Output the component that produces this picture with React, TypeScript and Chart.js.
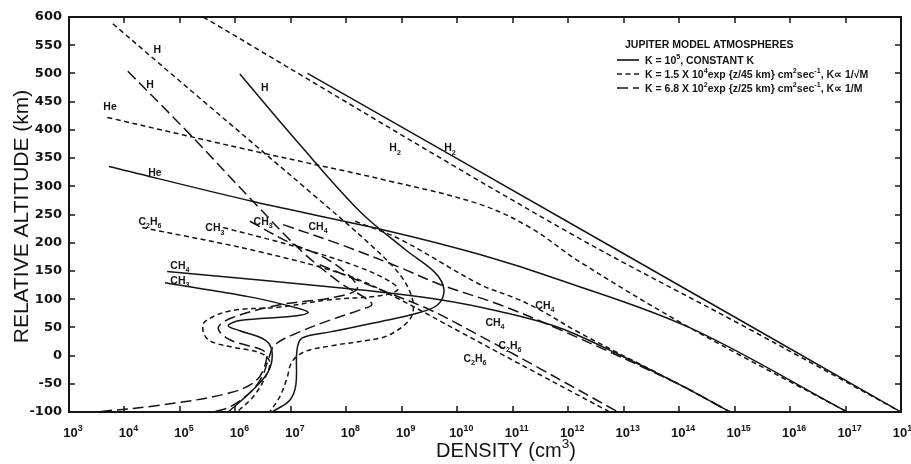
import { useEffect, useRef } from "react";
import { Chart, registerables } from "chart.js";

Chart.register(...registerables);

// Each profile is a list of [log10 density (cm^-3), relative altitude (km)].
type Pt = [number, number];

// K = 10^5, constant K
const h2ConstK: Pt[] = [[7.3, 500], [12.6, 203], [18, -100]];
const heConstK: Pt[] = [[3.72, 335], [6.32, 273], [8.79, 220], [10.41, 179], [11.85, 134], [14.2, 49], [17.03, -100]];
const hConstK: Pt[] = [[6.08, 499], [7.16, 374], [8.25, 255], [9.06, 188], [9.6, 147], [9.76, 117], [9.65, 90], [9.24, 74], [8.61, 60], [7.71, 42], [7.2, 31], [7.11, 10], [7.09, -52], [6.98, -79], [6.66, -100]];
const ch4ConstK: Pt[] = [[4.77, 149], [8.19, 117], [9.69, 99], [10.77, 78], [11.85, 49], [12.93, 1], [14.02, -52], [14.92, -100]];
const ch3ConstK: Pt[] = [[4.73, 129], [6.26, 104], [7.16, 83], [7.31, 76], [7.07, 70], [6.08, 62], [5.87, 53], [6.08, 44], [6.53, 28], [6.66, 7], [6.59, -29], [6.26, -66], [5.87, -100]];

// K = 1.5 x 10^4 exp(z/45 km), K ∝ 1/√M
const h2SqrtM: Pt[] = [[5.42, 600], [11.85, 227], [15.28, 46], [18, -100]];
const heSqrtM: Pt[] = [[3.69, 422], [6.44, 360], [8.79, 309], [10.41, 268], [11.31, 227], [12.21, 166], [14.2, 49], [17.03, -100]];
const hSqrtM: Pt[] = [[3.79, 588], [5.36, 456], [7.38, 287], [8.43, 197], [8.97, 143], [9.18, 104], [9.2, 76], [9.09, 58], [8.84, 40], [8.61, 31], [7.71, 17], [7.25, 7], [7.02, -11], [6.93, -40], [6.8, -73], [6.62, -100]];
const ch4SqrtM: Pt[] = [[8.16, 238], [8.97, 206], [10.41, 126], [11.04, 102], [11.49, 81], [12.21, 40], [14.02, -52], [14.92, -100]];
const ch3SqrtM: Pt[] = [[5.78, 227], [7.16, 191], [8.25, 156], [8.79, 131], [8.93, 117], [8.61, 106], [7.71, 99], [6.8, 86], [5.9, 79], [5.45, 60], [5.42, 42], [5.54, 26], [5.94, 15], [6.44, 5], [6.62, -11], [6.53, -40], [6.32, -73], [6.03, -100]];
const c2h6SqrtM: Pt[] = [[4.32, 227], [6.44, 184], [8.07, 140], [8.97, 99], [10.05, 42], [11.49, -34], [12.75, -100]];

// K = 6.8 x 10^2 exp(z/25 km), K ∝ 1/M
const hInvM: Pt[] = [[4.06, 504], [5.18, 392], [6.32, 273], [7.16, 188], [7.89, 129], [8.34, 102], [8.46, 90], [8.25, 81], [7.71, 63], [7.16, 42], [6.71, 19], [6.59, -8], [6.48, -38], [6.26, -66], [5.9, -91], [5.6, -100]];
const ch4InvM: Pt[] = [[6.86, 232], [7.89, 197], [8.97, 156], [9.69, 126], [10.77, 90], [11.85, 46], [14.02, -52], [14.92, -100]];
const ch3InvM: Pt[] = [[6.26, 238], [6.98, 200], [7.58, 175], [8.07, 140], [8.19, 117], [7.71, 102], [6.8, 90], [5.94, 67], [5.69, 49], [5.9, 28], [6.48, 10], [6.57, -2], [6.39, -43], [5.9, -66], [4.64, -88], [3.47, -100]];
const c2h6InvM: Pt[] = [[7.52, 161], [8.61, 117], [9.51, 81], [10.41, 35], [11.49, -23], [12.9, -100]];

// Axis ticks
const densityExponents = [3, 4, 5, 6, 7, 8, 9, 10, 11, 12, 13, 14, 15, 16, 17, 18];
const altitudeMin = -100;
const altitudeMax = 600;
const altitudeStep = 50;

// Curve labels, anchored at [log10 density, altitude]
const speciesLabels: { text: string; at: Pt }[] = [
  { text: "H", at: [4.59, 543] },
  { text: "H", at: [4.46, 481] },
  { text: "H", at: [6.53, 476] },
  { text: "He", at: [3.74, 442] },
  { text: "He", at: [4.55, 326] },
  { text: "H₂", at: [8.88, 369] },
  { text: "H₂", at: [9.87, 369] },
  { text: "C₂H₆", at: [4.46, 238] },
  { text: "CH₃", at: [5.63, 227] },
  { text: "CH₃", at: [6.5, 238] },
  { text: "CH₄", at: [7.49, 230] },
  { text: "CH₄", at: [5.0, 161] },
  { text: "CH₃", at: [5.0, 134] },
  { text: "CH₄", at: [11.58, 90] },
  { text: "CH₄", at: [10.68, 60] },
  { text: "C₂H₆", at: [10.95, 19] },
  { text: "C₂H₆", at: [10.32, -4] },
];

const legendTitle = "JUPITER MODEL ATMOSPHERES";
const models = [
  { key: "constK", text: "K = 10⁵, CONSTANT K" },
  { key: "sqrtM", text: "K = 1.5 X 10⁴exp {z/45 km} cm²sec⁻¹, K∝ 1/√M" },
  { key: "invM", text: "K = 6.8 X 10²exp {z/25 km} cm²sec⁻¹, K∝ 1/M" },
];

const series: { label: string; model: string; pts: Pt[] }[] = [
  { label: "H₂", model: "constK", pts: h2ConstK },
  { label: "He", model: "constK", pts: heConstK },
  { label: "H", model: "constK", pts: hConstK },
  { label: "CH₄", model: "constK", pts: ch4ConstK },
  { label: "CH₃", model: "constK", pts: ch3ConstK },
  { label: "H₂", model: "sqrtM", pts: h2SqrtM },
  { label: "He", model: "sqrtM", pts: heSqrtM },
  { label: "H", model: "sqrtM", pts: hSqrtM },
  { label: "CH₄", model: "sqrtM", pts: ch4SqrtM },
  { label: "CH₃", model: "sqrtM", pts: ch3SqrtM },
  { label: "C₂H₆", model: "sqrtM", pts: c2h6SqrtM },
  { label: "H", model: "invM", pts: hInvM },
  { label: "CH₄", model: "invM", pts: ch4InvM },
  { label: "CH₃", model: "invM", pts: ch3InvM },
  { label: "C₂H₆", model: "invM", pts: c2h6InvM },
];

const INK = "#141414";
const W = 925;
const H = 464;
const dashFor: Record<string, number[]> = { constK: [], sqrtM: [5, 3.5], invM: [11, 5] };

const SUP: Record<string, string> = { "⁰": "0", "¹": "1", "²": "2", "³": "3", "⁴": "4", "⁵": "5", "⁶": "6", "⁷": "7", "⁸": "8", "⁹": "9", "⁻": "-" };
const SUB: Record<string, string> = { "₀": "0", "₁": "1", "₂": "2", "₃": "3", "₄": "4", "₅": "5", "₆": "6", "₇": "7", "₈": "8", "₉": "9" };
const toSup = (n: number) => String(n).split("").map((d) => Object.keys(SUP).find((k) => SUP[k] === d) || d).join("");

// Draws text with raised superscript and lowered subscript characters.
function drawRich(ctx: CanvasRenderingContext2D, text: string, x: number, y: number, size: number, family: string, weight: string, align: "left" | "center" | "right") {
  const runs: { t: string; kind: number }[] = [];
  for (const ch of text) {
    const kind = SUP[ch] !== undefined ? 1 : SUB[ch] !== undefined ? 2 : 0;
    const t = kind === 1 ? SUP[ch] : kind === 2 ? SUB[ch] : ch;
    const last = runs[runs.length - 1];
    if (last && last.kind === kind) last.t += t;
    else runs.push({ t, kind });
  }
  const fontFor = (k: number) => `${weight} ${k ? size * 0.68 : size}px ${family}`;
  let total = 0;
  const widths = runs.map((r) => {
    ctx.font = fontFor(r.kind);
    const w = ctx.measureText(r.t).width;
    total += w;
    return w;
  });
  let cx = align === "center" ? x - total / 2 : align === "right" ? x - total : x;
  ctx.textAlign = "left";
  ctx.textBaseline = "alphabetic";
  runs.forEach((r, i) => {
    ctx.font = fontFor(r.kind);
    const dy = r.kind === 1 ? -size * 0.45 : r.kind === 2 ? size * 0.3 : 0;
    ctx.fillText(r.t, cx, y + dy);
    cx += widths[i];
  });
}

const framePlugin = {
  id: "frame",
  afterDatasetsDraw(chart: any) {
    const { ctx, chartArea: a } = chart;
    const xs = chart.scales.x;
    const ys = chart.scales.y;
    ctx.save();
    ctx.strokeStyle = INK;
    ctx.fillStyle = INK;
    ctx.setLineDash([]);

    // plot box
    ctx.lineWidth = 2;
    ctx.strokeRect(a.left, a.top, a.right - a.left, a.bottom - a.top);

    // inward tick marks on all four sides
    ctx.lineWidth = 1.5;
    ctx.beginPath();
    for (const e of densityExponents) {
      const px = Math.round(xs.getPixelForValue(Math.pow(10, e)));
      ctx.moveTo(px, a.bottom);
      ctx.lineTo(px, a.bottom - 6);
      ctx.moveTo(px, a.top);
      ctx.lineTo(px, a.top + 6);
    }
    for (let v = altitudeMin; v <= altitudeMax; v += altitudeStep) {
      const py = Math.round(ys.getPixelForValue(v));
      ctx.moveTo(a.left, py);
      ctx.lineTo(a.left + 6, py);
      ctx.moveTo(a.right, py);
      ctx.lineTo(a.right - 6, py);
    }
    ctx.stroke();

    // density tick labels: 10 with superscript exponent
    for (const e of densityExponents) {
      const px = xs.getPixelForValue(Math.pow(10, e));
      drawRich(ctx, "10" + toSup(e), px + 4, a.bottom + 25, 13, "'Liberation Sans'", "bold", "center");
    }

    // axis titles
    ctx.font = "21px 'Liberation Sans'";
    ctx.textAlign = "center";
    ctx.textBaseline = "middle";
    ctx.save();
    ctx.translate(22, (a.top + a.bottom) / 2 + 2);
    ctx.rotate(-Math.PI / 2);
    ctx.fillText("RELATIVE ALTITUDE (km)", 0, 0);
    ctx.restore();
    drawRich(ctx, "DENSITY (cm³)", (a.left + a.right) / 2 + 21, a.bottom + 45, 20, "'Liberation Sans'", "normal", "center");

    // species labels
    for (const l of speciesLabels) {
      const px = xs.getPixelForValue(Math.pow(10, l.at[0]));
      const py = ys.getPixelForValue(l.at[1]);
      drawRich(ctx, l.text, px, py + 4, 10.5, "'Liberation Sans'", "bold", "center");
    }

    // legend
    const lx = a.right - 284;
    drawRich(ctx, legendTitle, lx + 8, a.top + 31, 10.5, "'Liberation Sans'", "bold", "left");
    models.forEach((m, i) => {
      const ly = a.top + 43 + i * 14;
      ctx.lineWidth = 1.6;
      ctx.setLineDash(dashFor[m.key]);
      ctx.beginPath();
      ctx.moveTo(lx, ly);
      ctx.lineTo(lx + 22, ly);
      ctx.stroke();
      ctx.setLineDash([]);
      drawRich(ctx, m.text, lx + 28, ly + 4, 10.5, "'Liberation Sans'", "bold", "left");
    });
    ctx.restore();
  },
};

export default function App() {
  const ref = useRef<HTMLCanvasElement | null>(null);

  useEffect(() => {
    if (!ref.current) return;
    const chart = new Chart(ref.current, {
      type: "scatter",
      data: {
        datasets: series.map((s) => ({
          label: s.label,
          data: s.pts.map(([lg, z]) => ({ x: Math.pow(10, lg), y: z })),
          showLine: true,
          borderColor: INK,
          borderWidth: 1.5,
          borderDash: dashFor[s.model],
          pointRadius: 0,
          tension: 0.35,
          fill: false,
        })),
      },
      options: {
        responsive: false,
        animation: false,
        events: [],
        layout: { padding: { left: 0, top: 17, right: W - 901, bottom: 0 } },
        plugins: { legend: { display: false }, tooltip: { enabled: false } },
        scales: {
          x: {
            type: "logarithmic",
            min: 1e3,
            max: 1e18,
            ticks: { display: false },
            grid: { display: false, drawTicks: false },
            border: { display: false },
            afterFit: (s: any) => {
              s.height = H - 412;
            },
          },
          y: {
            type: "linear",
            min: altitudeMin,
            max: altitudeMax,
            ticks: {
              stepSize: altitudeStep,
              color: INK,
              padding: 7,
              font: { family: "'DejaVu Sans'", weight: "bold", size: 13 },
            },
            grid: { display: false, drawTicks: false },
            border: { display: false },
            afterFit: (s: any) => {
              s.width = 69;
            },
          },
        },
      },
      plugins: [framePlugin],
    } as any);
    return () => chart.destroy();
  }, []);

  return (
    <div style={{ position: "fixed", left: 0, top: 0, width: 911, height: 464, overflow: "hidden", background: "#fff" }}>
      <canvas ref={ref} width={W} height={H} style={{ display: "block", width: W, height: H }} />
    </div>
  );
}
